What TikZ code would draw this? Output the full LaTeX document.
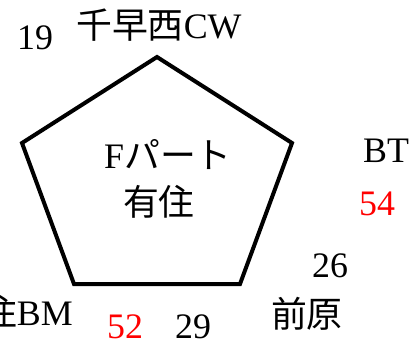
\documentclass[tikz,border=0pt]{standalone}
\usepackage{fontspec}
\setmainfont{Liberation Serif}
\newfontfamily\cjk{Noto Sans CJK JP}
\begin{document}
\begin{tikzpicture}[x=1bp,y=-1bp,
  lbl/.style={inner sep=0pt,font=\fontsize{36}{40}\selectfont},
  red lbl/.style={lbl,text=red},
  pent/.style={line width=4bp,line join=miter}]
\useasboundingbox (0,0) rectangle (420,344);
\coordinate (vt) at (157,57);
\coordinate (vr) at (292,143);
\coordinate (vbr) at (240,284);
\coordinate (vbl) at (74,284);
\coordinate (vl) at (22,143);
\draw[pent] (vt) -- (vr) -- (vbr) -- (vbl) -- (vl) -- cycle;
\node[lbl,anchor=base west] (n19) at (17,49) {19};
\node[lbl,anchor=base west] (cw) at (76,38) {{\cjk 千早西}CW};
\node[lbl,anchor=base west] (bt) at (363,162) {BT};
\node[red lbl,anchor=base west] (n54) at (359,215) {54};
\node[lbl,anchor=base west] (n26) at (312,277) {26};
\node[lbl,anchor=center] (mae) at (307,314) {\cjk 前原};
\node[lbl,anchor=base west] (n29) at (175,338) {29};
\node[red lbl,anchor=base west] (n52) at (107,338) {52};
\node[lbl,anchor=base east] (bm) at (73,325) {{\cjk 有住}BM};
\node[lbl,anchor=base] (fp) at (168,168) {F{\cjk パート}};
\node[lbl,anchor=center] (ari) at (159,202) {\cjk 有住};
\end{tikzpicture}
\end{document}
